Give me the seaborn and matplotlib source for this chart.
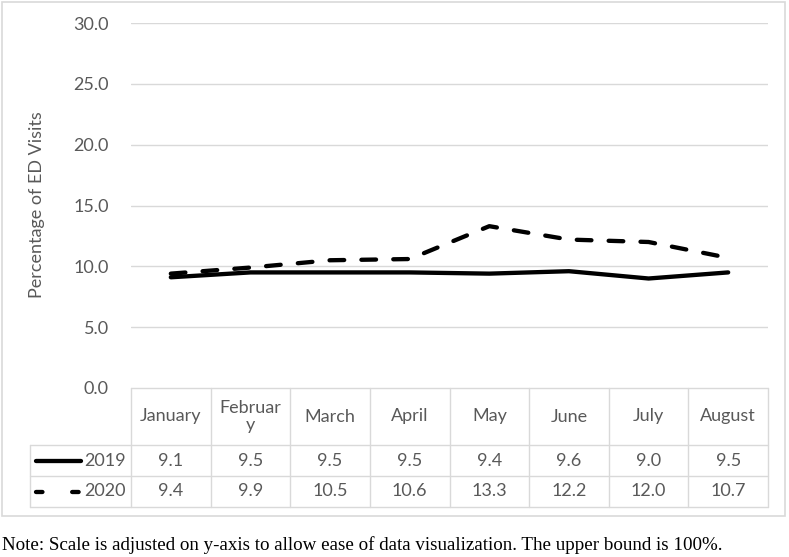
import numpy as np
import pandas as pd
import matplotlib
matplotlib.use("Agg")
import matplotlib.pyplot as plt
import seaborn as sns
from matplotlib.lines import Line2D
from matplotlib.patches import Rectangle
import matplotlib.transforms as mtransforms

months = ["January", "February", "March", "April", "May", "June", "July", "August"]
header_labels = ["January", "Februar\ny", "March", "April", "May", "June", "July", "August"]
years = ["2019", "2020"]
v2019 = [9.1, 9.5, 9.5, 9.5, 9.4, 9.6, 9.0, 9.5]
v2020 = [9.4, 9.9, 10.5, 10.6, 13.3, 12.2, 12.0, 10.7]
yticks = [0, 5, 10, 15, 20, 25, 30]
note = "Note: Scale is adjusted on y-axis to allow ease of data visualization. The upper bound is 100%."
ylabel = "Percentage of ED Visits"

sns.set_theme(style="white")
plt.rcParams['font.family'] = ['Liberation Sans Narrow', 'Lato', 'DejaVu Sans']

W, H = 789, 557
fig = plt.figure(figsize=(W / 100, H / 100), dpi=100)

def fx(x):
    return x / W

def fy(y):
    return 1 - y / H

FS = 13
L, R, T, B = 131, 768, 23, 388
ax = fig.add_axes([fx(L), fy(B), fx(R) - fx(L), fy(T) - fy(B)])

df = pd.DataFrame({
    "month": list(range(len(months))) * 2,
    "value": v2019 + v2020,
    "year": [years[0]] * len(months) + [years[1]] * len(months),
})
LW = 3.1
sns.lineplot(data=df, x="month", y="value", hue="year", style="year",
             palette={"2019": "black", "2020": "black"},
             dashes={"2019": "", "2020": (3.4, 4.0)},
             linewidth=LW, legend=False, ax=ax)
for ln in ax.get_lines():
    ln.set_solid_capstyle("round")
    ln.set_dash_capstyle("round")

grid_c = "#d9d9d9"
text_c = "#595959"
ax.set_xlim(-0.5, len(months) - 0.5)
ax.set_ylim(0, 30)
ax.set_yticks(yticks)
ax.set_yticklabels([f"{t:.1f}" for t in yticks], color=text_c, fontsize=FS)
ax.tick_params(axis="y", length=0, pad=16)
ax.set_xticks([])
ax.set_xlabel("")
ax.set_ylabel("")
for s in ax.spines.values():
    s.set_visible(False)
for t in yticks[1:]:
    ax.axhline(t, color=grid_c, lw=1, zorder=0)

fig.text(fx(37), fy(205), ylabel, rotation=90, ha="center", va="center",
         color=text_c, fontsize=FS)

# data table
axh = B - T
def ay(ypix):
    return -(ypix - B) / axh

blend = mtransforms.blended_transform_factory(ax.transData, ax.transAxes)
r_head, r1, r2 = 445, 476, 507
left_x = (30 - L) / (R - L)
tbl = dict(color=grid_c, lw=1, clip_on=False, transform=ax.transAxes)
ax.add_line(Line2D([0, 1], [ay(B), ay(B)], **tbl))
for yy in (r_head, r1, r2):
    ax.add_line(Line2D([left_x, 1], [ay(yy), ay(yy)], **tbl))
ax.add_line(Line2D([left_x, left_x], [ay(r_head), ay(r2)], **tbl))
for i in range(len(months) + 1):
    ax.add_line(Line2D([i - 0.5, i - 0.5], [ay(B), ay(r2)], color=grid_c, lw=1,
                       clip_on=False, transform=blend))

for i, lab in enumerate(header_labels):
    ax.text(i, ay((B + r_head) / 2), lab, transform=blend, ha="center", va="center",
            color=text_c, fontsize=FS, linespacing=1.15)
for vals, yc in ((v2019, (r_head + r1) / 2), (v2020, (r1 + r2) / 2)):
    for i, v in enumerate(vals):
        ax.text(i, ay(yc), f"{v:.1f}", transform=blend, ha="center", va="center",
                color=text_c, fontsize=FS)

# legend keys in the table
for yr, yc, ls in ((years[0], (r_head + r1) / 2, "-"), (years[1], (r1 + r2) / 2, (0, (1.5, 6.9)))):
    x0 = (36 - L) / (R - L)
    x1 = (81 - L) / (R - L)
    ax.add_line(Line2D([x0, x1], [ay(yc), ay(yc)], color="black", lw=LW,
                       linestyle=ls, solid_capstyle="round", dash_capstyle="round",
                       clip_on=False, transform=ax.transAxes))
    ax.text((84 - L) / (R - L), ay(yc), yr, transform=ax.transAxes, ha="left",
            va="center", color=text_c, fontsize=FS)

# chart frame
fig.add_artist(Rectangle((fx(2), fy(516)), fx(785) - fx(2), fy(2) - fy(516),
                         transform=fig.transFigure, fill=False, edgecolor=grid_c, lw=1.2))

fig.text(fx(2), fy(545), note, ha="left", va="center", color="black",
         fontsize=13.7, family=["Liberation Serif", "DejaVu Serif"])

fig.savefig("out.png", dpi=100)
